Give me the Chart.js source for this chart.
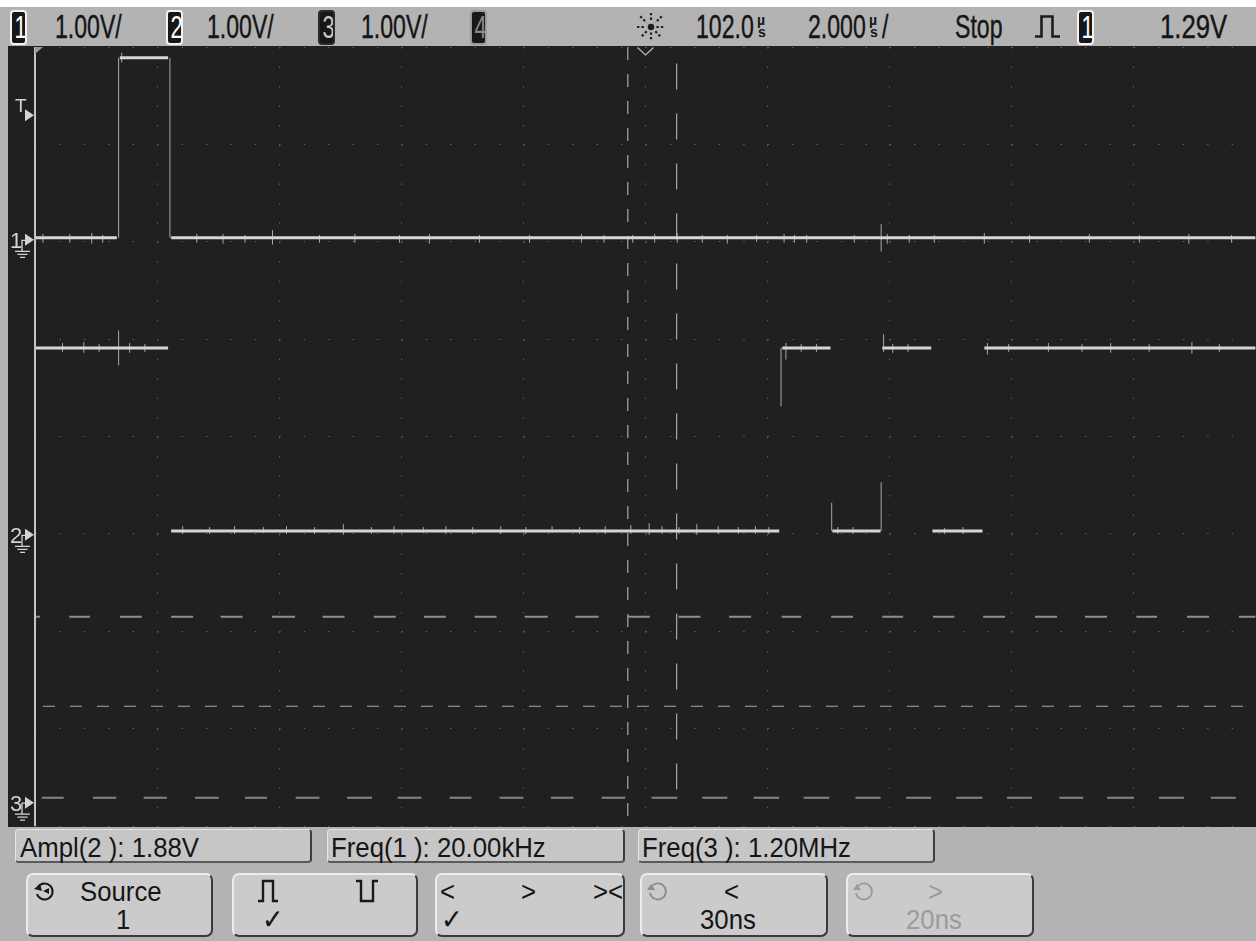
<!DOCTYPE html>
<html>
<head>
<meta charset="utf-8">
<title>Scope capture</title>
<script src="https://cdn.jsdelivr.net/npm/chart.js@4.4.1/dist/chart.umd.min.js"></script>
<style>
  body { margin: 0; background: #fff; }
  #scope { position: relative; width: 1256px; height: 941px; background: #b3b3b3; overflow: hidden;
    font-family: "Liberation Sans", Arial, sans-serif; color: #151515; }
  #topWhite { position: absolute; left: 0; top: 0; width: 1256px; height: 7px; background: #fff; }
  #screen { position: absolute; left: 8px; top: 46px; width: 1248px; height: 781px; background: #221f20; }
  #plotBox { position: absolute; left: 0; top: 46px; width: 1256px; height: 781px; }
  .top { position: absolute; top: 10px; font-size: 33px; line-height: 1; white-space: nowrap;
    transform: scaleX(0.7); transform-origin: 0 0; -webkit-text-stroke: 0.4px #151515; }
  .unit { position: absolute; font-size: 14px; line-height: 1; font-weight: bold; }
  .chip { position: absolute; top: 10px; width: 13px; height: 31px; background: #171717; border: 2px solid #f2f2f2;
    border-radius: 4px; color: #fff; font-size: 31px; line-height: 32px; text-align: center; overflow: hidden; }
  .chip span { display: inline-block; transform: scaleX(0.7); }
  .box { position: absolute; top: 829px; height: 31px; background: #c6c6c6; border-radius: 4px;
    border: 1px solid #e6e6e6; border-right: 2px solid #3c3c3c; border-bottom: 2px solid #5a5a5a; }
  .btn { position: absolute; top: 873px; height: 60px; background: #cbcbcb; border-radius: 7px;
    border: 2px solid #ececec; border-right-color: #3a3a3a; border-bottom-color: #3a3a3a; }
  .txt { position: absolute; font-size: 28px; line-height: 1; white-space: nowrap; transform: scaleX(0.92); transform-origin: 0 0; }
  .dim { color: #9b9b9b; }
  svg { position: absolute; overflow: visible; }
</style>
</head>
<body>
<div id="scope">
  <div id="topWhite"></div>
  <div id="screen"></div>
  <div id="plotBox"><canvas id="chart"></canvas></div>

  <!-- top status line -->
  <div class="chip" style="left:10px"><span>1</span></div>
  <div class="top" style="left:55px">1.00V/</div>
  <div class="chip" style="left:166px"><span>2</span></div>
  <div class="top" style="left:207px">1.00V/</div>
  <div class="chip" style="left:318px;border-color:#2a2a2a;color:#c8c8c8"><span>3</span></div>
  <div class="top" style="left:361px">1.00V/</div>
  <div class="chip" style="left:470px;border-color:#9a9a9a;color:#8a8a8a"><span>4</span></div>
  <svg style="left:637px;top:13px" width="28" height="28" viewBox="0 0 26 26">
    <g stroke="#1e1e1e" stroke-width="2" stroke-dasharray="2.2 2">
      <line x1="13" y1="0" x2="13" y2="8"/><line x1="13" y1="18" x2="13" y2="26"/>
      <line x1="0" y1="13" x2="8" y2="13"/><line x1="18" y1="13" x2="26" y2="13"/>
      <line x1="3" y1="3" x2="9" y2="9"/><line x1="17" y1="17" x2="23" y2="23"/>
      <line x1="23" y1="3" x2="17" y2="9"/><line x1="9" y1="17" x2="3" y2="23"/>
    </g>
    <circle cx="13" cy="13" r="3" fill="#1e1e1e"/>
  </svg>
  <div class="top" style="left:696px">102.0</div>
  <div class="unit" style="left:757px;top:13px">µ</div>
  <div class="unit" style="left:758px;top:25px">s</div>
  <div class="top" style="left:808px">2.000</div>
  <div class="unit" style="left:869px;top:13px">µ</div>
  <div class="unit" style="left:870px;top:25px">s</div>
  <div class="top" style="left:882px">/</div>
  <div class="top" style="left:955px">Stop</div>
  <svg style="left:1035px;top:15px" width="25" height="23" viewBox="0 0 25 23">
    <path d="M0 21.5 H6.5 V1.5 H17.5 V21.5 H25" fill="none" stroke="#1c1c1c" stroke-width="2.6"/>
  </svg>
  <div class="chip" style="left:1077px"><span>1</span></div>
  <div class="top" style="left:1160px;transform:scaleX(0.78)">1.29V</div>

  <!-- measurement readouts -->
  <div class="box" style="left:15px;width:294px"><div class="txt" style="left:4px;top:4px">Ampl(2 ): 1.88V</div></div>
  <div class="box" style="left:327px;width:295px"><div class="txt" style="left:3px;top:4px">Freq(1 ): 20.00kHz</div></div>
  <div class="box" style="left:638px;width:294px"><div class="txt" style="left:3px;top:4px">Freq(3 ): 1.20MHz</div></div>

  <!-- softkeys -->
  <div class="btn" style="left:26px;width:183px">
    <svg style="left:6px;top:6px" width="20" height="20" viewBox="0 0 20 20">
      <path d="M4 6 A8 8 0 1 1 3 13" fill="none" stroke="#1a1a1a" stroke-width="2"/>
      <path d="M0 8 L6 3 L8 10 Z" fill="#1a1a1a"/>
      <path d="M9 10 L15 7 L15 13 Z" fill="#1a1a1a"/>
    </svg>
    <div class="txt" style="left:52px;top:3px">Source</div>
    <div class="txt" style="left:88px;top:31px">1</div>
  </div>
  <div class="btn" style="left:232px;width:182px">
    <svg style="left:24px;top:5px" width="20" height="22" viewBox="0 0 20 22">
      <path d="M0 21 H5 V1 H15 V21 H20" fill="none" stroke="#1a1a1a" stroke-width="2.4"/>
    </svg>
    <svg style="left:122px;top:5px" width="22" height="22" viewBox="0 0 22 22">
      <path d="M0 1 H5 V21 H17 V1 H22" fill="none" stroke="#1a1a1a" stroke-width="2.4"/>
    </svg>
    <div class="txt" style="left:28px;top:31px">✓</div>
  </div>
  <div class="btn" style="left:435px;width:186px">
    <div class="txt" style="left:3px;top:3px">&lt;</div>
    <div class="txt" style="left:84px;top:3px">&gt;</div>
    <div class="txt" style="left:156px;top:3px">&gt;&lt;</div>
    <div class="txt" style="left:4px;top:31px">✓</div>
  </div>
  <div class="btn" style="left:640px;width:184px">
    <svg style="left:5px;top:6px" width="20" height="20" viewBox="0 0 20 20">
      <path d="M5 5 A8 8 0 1 1 3 12" fill="none" stroke="#8c8c8c" stroke-width="1.8"/>
      <path d="M0 9 L4 3 L8 9 Z" fill="#8c8c8c"/>
    </svg>
    <div class="txt" style="left:82px;top:3px">&lt;</div>
    <div class="txt" style="left:58px;top:31px">30ns</div>
  </div>
  <div class="btn" style="left:846px;width:184px">
    <svg style="left:5px;top:6px" width="20" height="20" viewBox="0 0 20 20">
      <path d="M5 5 A8 8 0 1 1 3 12" fill="none" stroke="#9b9b9b" stroke-width="1.8"/>
      <path d="M0 9 L4 3 L8 9 Z" fill="#9b9b9b"/>
    </svg>
    <div class="txt dim" style="left:80px;top:3px">&gt;</div>
    <div class="txt dim" style="left:58px;top:31px">20ns</div>
  </div>
</div>

<script>
// time base: 102.0 µs at centre, 2.000 µs/div over 10 divisions
const timeMin = 92.0;
const timeMax = 112.0;
const timeStep = 2.0;
const trigTime = 102.0;
// vertical: 8 divisions, 1.00 V/div, ground markers given in divisions from centre
const divMin = -4;
const divMax = 4;
const chLabels = ['1', '2', '3'];
const chGround = [2.02, -1.01, -3.76];
const trigLevel = 1.29; // V on channel 1

// channel 1: flat runs [from µs, to µs, volts], edges and glitches [µs, low V, high V]
const ch1Runs = [[92.00, 93.34, 0.02], [93.39, 94.18, 1.87], [94.23, 111.99, 0.02]];
const ch1Ticks = [
  [93.37, 0.02, 1.87], [94.21, 0.02, 1.87], [93.42, 1.82, 1.92],
  [92.13, -0.03, 0.06], [92.57, -0.03, 0.06], [92.93, -0.04, 0.07], [93.11, -0.03, 0.05],
  [94.65, -0.03, 0.06], [95.08, -0.04, 0.06], [95.44, -0.03, 0.05], [95.89, -0.05, 0.10],
  [96.66, -0.03, 0.05], [97.24, -0.03, 0.06], [97.97, -0.03, 0.05], [98.46, -0.04, 0.06],
  [99.28, -0.03, 0.05], [100.10, -0.03, 0.05], [100.95, -0.03, 0.06], [101.32, -0.03, 0.05],
  [101.79, -0.03, 0.05], [102.15, -0.03, 0.06], [102.52, -0.03, 0.07], [102.93, -0.03, 0.05],
  [103.34, -0.04, 0.05], [103.82, -0.02, 0.05], [104.27, -0.03, 0.06], [104.44, -0.03, 0.05],
  [104.64, -0.03, 0.05], [105.42, -0.03, 0.05], [105.86, -0.12, 0.16], [105.96, -0.04, 0.06],
  [106.32, -0.03, 0.05], [106.73, -0.03, 0.05], [107.55, -0.04, 0.07], [108.29, -0.03, 0.05],
  [109.27, -0.03, 0.06], [110.09, -0.03, 0.05], [110.90, -0.04, 0.06], [111.60, -0.03, 0.05]
];

// channel 2
const ch2Runs = [
  [92.00, 94.18, 1.92], [94.23, 104.19, 0.04], [104.24, 105.03, 1.92], [105.06, 105.85, 0.04],
  [105.88, 106.68, 1.92], [106.70, 107.52, 0.04], [107.55, 111.99, 1.92]
];
const ch2Ticks = [
  [104.22, 1.32, 1.92], [105.05, 0.04, 0.33], [105.86, 0.04, 0.54],
  [92.45, 1.88, 1.97], [92.80, 1.87, 1.98], [93.05, 1.88, 1.96], [93.37, 1.74, 2.10],
  [93.55, 1.87, 1.97], [93.80, 1.88, 1.96],
  [94.42, 0.01, 0.09], [94.86, 0.01, 0.08], [95.27, 0.01, 0.09], [95.74, 0.02, 0.08],
  [96.12, 0.01, 0.09], [96.58, 0.01, 0.08], [97.05, 0.00, 0.11], [97.51, 0.01, 0.08],
  [97.88, 0.01, 0.09], [98.36, 0.02, 0.08], [98.73, 0.01, 0.09], [99.17, 0.01, 0.08],
  [99.63, 0.01, 0.09], [100.04, 0.01, 0.08], [100.47, 0.02, 0.09], [100.92, 0.01, 0.08],
  [101.34, 0.01, 0.09], [101.76, 0.01, 0.10], [102.06, 0.00, 0.12], [102.27, 0.01, 0.09],
  [102.55, 0.01, 0.08], [102.84, 0.00, 0.11], [103.19, 0.01, 0.09], [103.52, 0.01, 0.08],
  [103.80, 0.01, 0.09], [104.02, 0.01, 0.08],
  [104.30, 1.80, 1.97], [104.55, 1.88, 1.96], [104.80, 1.88, 1.96], [105.15, 0.01, 0.08],
  [105.40, 0.01, 0.08], [105.90, 1.88, 2.06], [106.05, 1.87, 1.96], [106.30, 1.88, 1.96],
  [106.90, 0.01, 0.07], [107.20, 0.01, 0.08], [107.60, 1.85, 1.97], [107.95, 1.88, 1.96],
  [108.60, 1.88, 1.97], [109.15, 1.88, 1.96], [109.62, 1.87, 1.97], [110.25, 1.88, 1.96],
  [110.95, 1.86, 1.98], [111.40, 1.88, 1.96]
];

// channel 3: 1.2 MHz clock, only the flat parts of each level are drawn [from µs, to µs]
const ch3Levels = [0.05, 1.91];
const ch3HighDash = [
  [92.00, 92.08], [92.56, 92.90], [93.39, 93.75], [94.23, 94.59], [95.04, 95.40], [95.88, 96.26],
  [96.71, 97.07], [97.55, 97.91], [98.37, 98.73], [99.20, 99.56], [100.02, 100.40], [100.85, 101.23],
  [101.71, 102.07], [102.54, 102.90], [103.37, 103.73], [104.23, 104.55], [105.04, 105.40],
  [105.88, 106.22], [106.71, 107.06], [107.53, 107.89], [108.38, 108.74], [109.20, 109.56],
  [110.04, 110.38], [110.87, 111.23], [111.72, 111.99]
];
const ch3LowDash = [
  [92.11, 92.47], [92.95, 93.33], [93.78, 94.16], [94.62, 95.01], [95.44, 95.80], [96.27, 96.66],
  [97.11, 97.52], [97.94, 98.33], [98.79, 99.15], [99.61, 100.00], [100.45, 100.82], [101.28, 101.67],
  [102.10, 102.52], [102.93, 103.34], [103.77, 104.19], [104.59, 105.01], [105.44, 105.85],
  [106.27, 106.68], [107.09, 107.52], [107.92, 108.33], [108.78, 109.17], [109.56, 110.00],
  [110.41, 110.82], [111.26, 111.67]
];

// Freq(3) measurement markers and threshold
const markerTimes = [101.71, 102.51];
const ch3Threshold = 0.99;

function runPoints(runs, g) {
  const pts = [];
  runs.forEach(([a, b, v]) => pts.push({ x: a, y: g + v }, { x: b, y: g + v }, { x: b, y: null }));
  return pts;
}
function tickPoints(ticks, g) {
  const pts = [];
  ticks.forEach(([t, lo, hi]) => pts.push({ x: t, y: g + lo }, { x: t, y: g + hi }, { x: t, y: null }));
  return pts;
}
function dashPoints(dashes, g, v) {
  return runPoints(dashes.map(([a, b]) => [a, b, v]), g);
}

const traceColor = '#d5d5d5';
const line = (data, color, width, extra) => Object.assign({
  data: data, borderColor: color, borderWidth: width, pointRadius: 0, fill: false,
  tension: 0, spanGaps: false
}, extra || {});

const scopeMarks = {
  id: 'scopeMarks',
  afterDatasetsDraw(chart) {
    const { ctx, chartArea: a, scales: { x, y } } = chart;
    ctx.save();
    // left edge of graticule
    ctx.strokeStyle = '#c4c4c4';
    ctx.lineWidth = 2;
    ctx.beginPath();
    ctx.moveTo(a.left, a.top);
    ctx.lineTo(a.left, a.bottom);
    ctx.stroke();
    // corner mark
    ctx.fillStyle = '#9a9a9a';
    ctx.beginPath();
    ctx.moveTo(a.left, a.top); ctx.lineTo(a.left + 8, a.top); ctx.lineTo(a.left, a.top + 7);
    ctx.fill();
    // trigger time mark
    const tx = x.getPixelForValue(trigTime);
    ctx.strokeStyle = '#bdbdbd';
    ctx.lineWidth = 1.2;
    ctx.beginPath();
    ctx.moveTo(tx - 8, a.top + 0.5); ctx.lineTo(tx, a.top + 8); ctx.lineTo(tx + 8, a.top + 0.5);
    ctx.stroke();

    ctx.fillStyle = '#d4d4d4';
    ctx.strokeStyle = '#d4d4d4';
    ctx.textBaseline = 'alphabetic';
    const arrow = (py) => {
      ctx.beginPath();
      ctx.moveTo(a.left - 10, py - 6); ctx.lineTo(a.left - 1, py); ctx.lineTo(a.left - 10, py + 6);
      ctx.closePath();
      ctx.fill();
    };
    chLabels.forEach((lab, i) => {
      const py = y.getPixelForValue(chGround[i]);
      ctx.font = '22px "Liberation Sans", Arial, sans-serif';
      ctx.fillText(lab, 10, py + 8);
      arrow(py);
      ctx.lineWidth = 1.3;
      ctx.beginPath();
      ctx.moveTo(a.left - 10, py + 0.5); ctx.lineTo(22, py + 0.5); ctx.lineTo(22, py + 11);
      ctx.moveTo(15, py + 11.5); ctx.lineTo(30, py + 11.5);
      ctx.moveTo(17.5, py + 14.5); ctx.lineTo(27.5, py + 14.5);
      ctx.moveTo(20, py + 17.5); ctx.lineTo(25, py + 17.5);
      ctx.stroke();
    });
    // trigger level
    const ty = y.getPixelForValue(chGround[0] + trigLevel);
    ctx.font = '19px "Liberation Sans", Arial, sans-serif';
    ctx.fillText('T', 15, ty - 2);
    arrow(ty + 1);
    ctx.restore();
  }
};

const datasets = [
  line(runPoints(ch1Runs, chGround[0]), traceColor, 3),
  line(tickPoints(ch1Ticks, chGround[0]), '#a8a8a8', 1),
  line(runPoints(ch2Runs, chGround[1]), traceColor, 3),
  line(tickPoints(ch2Ticks, chGround[1]), '#a8a8a8', 1),
  line(dashPoints(ch3HighDash, chGround[2], ch3Levels[1]), '#8e8e8e', 2),
  line(dashPoints(ch3LowDash, chGround[2], ch3Levels[0]), '#858585', 2),
  line([{ x: markerTimes[0], y: divMax }, { x: markerTimes[0], y: divMin }], '#a9a9a9', 1.2, { borderDash: [13, 14] }),
  line([{ x: markerTimes[1], y: 3.83 }, { x: markerTimes[1], y: -3.73 }], '#a9a9a9', 1.2, { borderDash: [26, 24] }),
  line([{ x: 92.13, y: chGround[2] + ch3Threshold }, { x: timeMax, y: chGround[2] + ch3Threshold }], '#a9a9a9', 1.2, { borderDash: [12, 15] })
];

new Chart(document.getElementById('chart'), {
  type: 'line',
  data: { datasets: datasets },
  options: {
    responsive: true,
    maintainAspectRatio: false,
    animation: false,
    parsing: true,
    layout: { padding: { left: 35, top: 1, right: 0, bottom: 1 } },
    plugins: { legend: { display: false }, tooltip: { enabled: false } },
    scales: {
      x: {
        type: 'linear', min: timeMin, max: timeMax,
        ticks: { display: false, stepSize: timeStep },
        grid: { color: '#5e5e5e', lineWidth: 1, drawTicks: false },
        border: { display: false, dash: [1.5, 17.98] }
      },
      y: {
        type: 'linear', min: divMin, max: divMax,
        ticks: { display: false, stepSize: 1 },
        grid: { color: '#5e5e5e', lineWidth: 1, drawTicks: false },
        border: { display: false, dash: [1.5, 22.92] }
      }
    }
  },
  plugins: [scopeMarks]
});
</script>
</body>
</html>
